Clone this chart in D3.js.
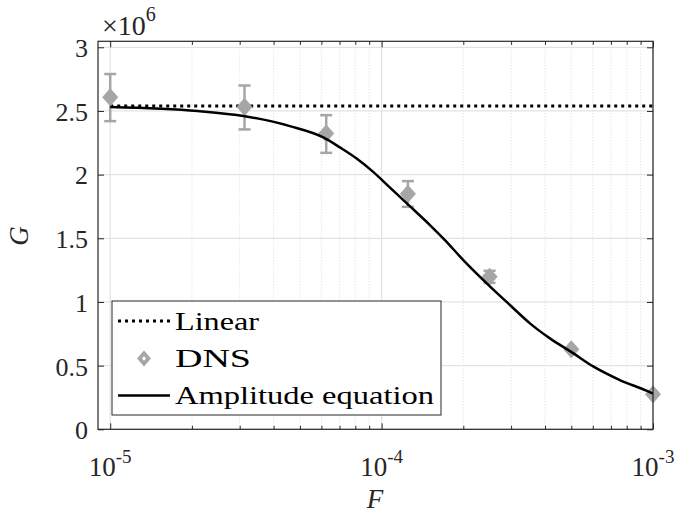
<!DOCTYPE html>
<html>
<head>
<meta charset="utf-8">
<script src="https://cdn.jsdelivr.net/npm/d3@7"></script>
<style>
  body { margin: 0; background: #fff; }
  svg { display: block; }
  svg text { font-family: "Liberation Serif", "Times New Roman", "DejaVu Serif", "Noto Serif", FreeSerif, Times, serif; }
</style>
</head>
<body>
<div id="chart"></div>
<script>
// DNS points (G in units of 1e6)
const dnsF = [1e-5, 3.125e-5, 6.25e-5, 1.25e-4, 2.5e-4, 5e-4, 1e-3];
const dnsG = [2.608, 2.532, 2.323, 1.849, 1.198, 0.628, 0.275];
const dnsLow = [2.42, 2.355, 2.171, 1.747, 1.15, 0.62, 0.27];
const dnsHigh = [2.79, 2.70, 2.467, 1.949, 1.245, 0.636, 0.28];

// linear prediction
const linearF = [1e-5, 1e-3];
const linearG = [2.538, 2.538];

// amplitude equation curve
const ampF = [1e-5, 2.1e-5, 3.13e-5, 4.59e-5, 6.1e-5, 7.02e-5, 8.09e-5, 9.31e-5, 1.074e-4, 1.236e-4,
  1.507e-4, 1.711e-4, 2.0e-4, 2.44e-4, 2.97e-4, 3.52e-4, 4.17e-4, 5.01e-4, 6.02e-4, 7.55e-4, 9.46e-4, 1e-3];
const ampG = [2.532, 2.50, 2.459, 2.381, 2.292, 2.214, 2.127, 2.022, 1.898, 1.776,
  1.604, 1.486, 1.329, 1.146, 0.976, 0.832, 0.714, 0.606, 0.494, 0.387, 0.303, 0.28];

const yTicks = [0, 0.5, 1, 1.5, 2, 2.5, 3];
const yTickLabels = ['0', '0.5', '1', '1.5', '2', '2.5', '3'];
const xTicks = [1e-5, 1e-4, 1e-3];
const xTickExps = ['-5', '-4', '-3'];
const xMinorTicks = [2e-5, 3e-5, 4e-5, 5e-5, 6e-5, 7e-5, 8e-5, 9e-5,
  2e-4, 3e-4, 4e-4, 5e-4, 6e-4, 7e-4, 8e-4, 9e-4];
const legendLabels = ['Linear', 'DNS', 'Amplitude equation'];

const width = 679, height = 516;
const box = { left: 98, right: 653, top: 41.3, bottom: 429.3 };
const axisColor = '#262626';
const gray = '#a6a6a6';
const serif = '"Liberation Serif", "Times New Roman", "DejaVu Serif", "Noto Serif", FreeSerif, Times, serif';

const svg = d3.select('#chart').append('svg')
  .attr('width', width)
  .attr('height', height);

const x = d3.scaleLog()
  .domain([Math.pow(10, -5.045), 1e-3])
  .range([box.left, box.right]);

const y = d3.scaleLinear()
  .domain([0, 3.047])
  .range([box.bottom, box.top]);

// grid
const grid = svg.append('g');
grid.selectAll('.minor')
  .data(xMinorTicks)
  .enter().append('line')
  .attr('x1', d => x(d)).attr('x2', d => x(d))
  .attr('y1', box.top).attr('y2', box.bottom)
  .attr('stroke', '#d4d4d4')
  .attr('stroke-width', 0.8)
  .attr('stroke-dasharray', '1,2');
grid.selectAll('.majx')
  .data(xTicks)
  .enter().append('line')
  .attr('x1', d => x(d)).attr('x2', d => x(d))
  .attr('y1', box.top).attr('y2', box.bottom)
  .attr('stroke', '#e3e3e3')
  .attr('stroke-width', 1.2);
grid.selectAll('.majy')
  .data(yTicks)
  .enter().append('line')
  .attr('x1', box.left).attr('x2', box.right)
  .attr('y1', d => y(d)).attr('y2', d => y(d))
  .attr('stroke', '#e3e3e3')
  .attr('stroke-width', 1.2);

const line = d3.line()
  .x(d => x(d[0]))
  .y(d => y(d[1]));

// Linear (dotted)
svg.append('path')
  .datum(linearF.map((f, i) => [f, linearG[i]]))
  .attr('d', line)
  .attr('fill', 'none')
  .attr('stroke', '#000')
  .attr('stroke-width', 3)
  .attr('stroke-dasharray', '3,4');

// DNS error bars + diamonds
const diamond = (w, h) => `M0,${-h}L${w},0L0,${h}L${-w},0Z`;
const dns = dnsF.map((f, i) => ({ f, g: dnsG[i], lo: dnsLow[i], hi: dnsHigh[i] }));

const eb = svg.append('g')
  .attr('stroke', gray)
  .attr('stroke-width', 2.5)
  .attr('fill', 'none');
eb.selectAll('.v').data(dns).enter().append('line')
  .attr('x1', d => x(d.f)).attr('x2', d => x(d.f))
  .attr('y1', d => y(d.lo)).attr('y2', d => y(d.hi));
eb.selectAll('.lo').data(dns).enter().append('line')
  .attr('x1', d => x(d.f) - 6).attr('x2', d => x(d.f) + 6)
  .attr('y1', d => y(d.lo)).attr('y2', d => y(d.lo));
eb.selectAll('.hi').data(dns).enter().append('line')
  .attr('x1', d => x(d.f) - 6).attr('x2', d => x(d.f) + 6)
  .attr('y1', d => y(d.hi)).attr('y2', d => y(d.hi));

svg.selectAll('.dns').data(dns).enter().append('path')
  .attr('transform', d => `translate(${x(d.f)},${y(d.g)})`)
  .attr('d', diamond(7.5, 8.5))
  .attr('fill', gray)
  .attr('stroke', gray)
  .attr('stroke-width', 1);

// Amplitude equation curve
svg.append('path')
  .datum(ampF.map((f, i) => [f, ampG[i]]))
  .attr('d', line.curve(d3.curveMonotoneX))
  .attr('fill', 'none')
  .attr('stroke', '#000')
  .attr('stroke-width', 2.5);

// axes: ticks inside on all four sides
const xMajorTickAxis = (axisFn, pos) => svg.append('g')
  .attr('transform', `translate(0,${pos})`)
  .call(axisFn(x).tickValues(xTicks).tickSizeInner(-6).tickSizeOuter(0).tickFormat(''));
const xMinorTickAxis = (axisFn, pos) => svg.append('g')
  .attr('transform', `translate(0,${pos})`)
  .call(axisFn(x).tickValues(xMinorTicks).tickSizeInner(-3.5).tickSizeOuter(0).tickFormat(''));

xMajorTickAxis(d3.axisBottom, box.bottom);
xMinorTickAxis(d3.axisBottom, box.bottom);
xMajorTickAxis(d3.axisTop, box.top);
xMinorTickAxis(d3.axisTop, box.top);

const yLeft = svg.append('g')
  .attr('transform', `translate(${box.left},0)`)
  .call(d3.axisLeft(y).tickValues(yTicks).tickSizeInner(-6).tickSizeOuter(0).tickPadding(10)
    .tickFormat((d, i) => yTickLabels[i]));
yLeft.attr('font-family', serif);
yLeft.selectAll('text')
  .attr('font-size', 26)
  .attr('fill', axisColor)
  .attr('dy', '0.36em');

svg.append('g')
  .attr('transform', `translate(${box.right},0)`)
  .call(d3.axisRight(y).tickValues(yTicks).tickSizeInner(-6).tickSizeOuter(0).tickFormat(''));

svg.selectAll('.domain').remove();
svg.selectAll('.tick line').attr('stroke', axisColor).attr('stroke-width', 1);

svg.append('rect')
  .attr('x', box.left).attr('y', box.top)
  .attr('width', box.right - box.left)
  .attr('height', box.bottom - box.top)
  .attr('fill', 'none')
  .attr('stroke', axisColor)
  .attr('stroke-width', 1.2);

// x tick labels 10^n
const xl = svg.selectAll('.xl').data(xTicks).enter().append('text')
  .attr('x', d => x(d))
  .attr('y', 476)
  .attr('text-anchor', 'middle')
  .attr('fill', axisColor)
  .attr('font-size', 27);
xl.append('tspan').text('10');
xl.append('tspan')
  .attr('dy', -13)
  .attr('font-size', 19)
  .text((d, i) => xTickExps[i]);

// exponent label
const ex = svg.append('text')
  .attr('x', 102).attr('y', 35)
  .attr('fill', axisColor)
  .attr('font-size', 28);
ex.append('tspan').text('\u00d710');
ex.append('tspan').attr('dy', -14).attr('font-size', 20).text('6');

// axis labels
svg.append('text')
  .attr('x', 375).attr('y', 508)
  .attr('text-anchor', 'middle')
  .attr('font-style', 'italic')
  .attr('font-size', 27)
  .attr('fill', axisColor)
  .text('F');

svg.append('text')
  .attr('transform', 'translate(28,236) rotate(-90)')
  .attr('text-anchor', 'middle')
  .attr('font-style', 'italic')
  .attr('font-size', 27)
  .attr('fill', axisColor)
  .text('G');

// legend
const lg = svg.append('g');
lg.append('rect')
  .attr('x', 112).attr('y', 301)
  .attr('width', 329).attr('height', 114)
  .attr('fill', '#fff')
  .attr('stroke', axisColor)
  .attr('stroke-width', 1);

const rowY = [321, 358.5, 395.5];
lg.append('line')
  .attr('x1', 118).attr('x2', 170)
  .attr('y1', rowY[0]).attr('y2', rowY[0])
  .attr('stroke', '#000').attr('stroke-width', 3)
  .attr('stroke-dasharray', '3,4');
lg.append('path')
  .attr('transform', `translate(144,${rowY[1]})`)
  .attr('d', diamond(7, 8))
  .attr('fill', gray);
lg.append('path')
  .attr('transform', `translate(144,${rowY[1]})`)
  .attr('d', diamond(2, 2.3))
  .attr('fill', '#fff');
lg.append('line')
  .attr('x1', 118).attr('x2', 170)
  .attr('y1', rowY[2]).attr('y2', rowY[2])
  .attr('stroke', '#000').attr('stroke-width', 2.5);

lg.selectAll('.lt').data(legendLabels).enter().append('text')
  .attr('x', 175)
  .attr('y', (d, i) => rowY[i] + 8.5)
  .attr('font-size', 26)
  .attr('fill', '#000')
  .attr('textLength', (d, i) => [84, 76, 259][i])
  .attr('lengthAdjust', 'spacingAndGlyphs')
  .text(d => d);
</script>
</body>
</html>
